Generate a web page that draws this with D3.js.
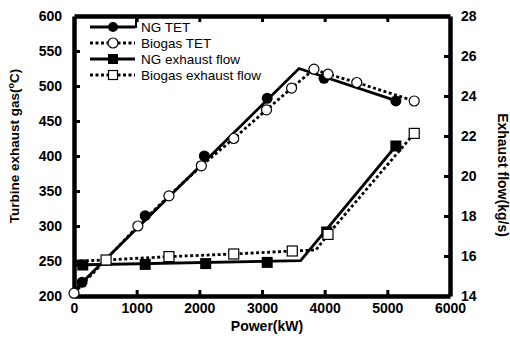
<!DOCTYPE html>
<html>
<head>
<meta charset="utf-8">
<script src="https://cdn.jsdelivr.net/npm/d3@7"></script>
<style>
  body { margin: 0; background: #fff; }
  svg { display: block; font-family: Arial, "Liberation Sans", sans-serif; }
</style>
</head>
<body>
<svg id="chart" width="510" height="338"></svg>
<script>
// markers
const powerNgTet = [128, 1136, 2080, 3083, 3990, 5136];
const ngTet = [219.6, 314.7, 400, 482.4, 511, 478.6];
const powerBioTet = [0, 1019, 1515, 2032, 2549, 3072, 3472, 3829, 4053, 4512, 5429];
const bioTet = [204, 300, 343, 386, 425, 466, 497, 524, 517, 505, 478.6];
const powerNgFlow = [140, 1136, 2101, 3083, 4032, 5136];
const ngFlow = [15.55, 15.58, 15.62, 15.68, 17.2, 21.5];
const powerBioFlow = [512, 1515, 2549, 3483, 4053, 5429];
const bioFlow = [15.8, 15.97, 16.1, 16.25, 17.08, 22.13];

// the drawn lines (fits, not always through the markers)
const ngTetLineP = [0, 3590, 5136];
const ngTetLine = [208, 525, 479];
const ngFlowLineP = [0, 3616, 5136];
const ngFlowLine = [15.55, 15.77, 21.5];
const bioFlowLineP = [100, 512, 1515, 2549, 3483, 3860, 4053, 5429];
const bioFlowLine = [15.75, 15.8, 15.97, 16.1, 16.25, 16.3, 17.08, 22.13];

const xTicks = [0, 1000, 2000, 3000, 4000, 5000, 6000];
const yLeftTicks = [200, 250, 300, 350, 400, 450, 500, 550, 600];
const yRightTicks = [14, 16, 18, 20, 22, 24, 26, 28];
const legendNames = ["NG TET", "Biogas TET", "NG exhaust flow", "Biogas exhaust flow"];

const svg = d3.select("#chart");
const x = d3.scaleLinear().domain([0, 6000]).range([74, 450]);
const yL = d3.scaleLinear().domain([200, 600]).range([296, 16]);
const yR = d3.scaleLinear().domain([14, 28]).range([296, 16]);

const zip = (a, b) => a.map((v, i) => [v, b[i]]);
const fmt = d3.format("d");

// axes
function styleAxis(g) {
  g.select(".domain").attr("stroke", "#000").attr("stroke-width", 4.5);
  g.selectAll(".tick line").attr("stroke", "#000").attr("stroke-width", 3);
  g.selectAll("text").attr("font-size", 14).attr("font-weight", "bold").attr("fill", "#000")
    .attr("font-family", "Arial, 'Liberation Sans', sans-serif");
}

svg.append("g").attr("transform", "translate(0,296)")
  .call(d3.axisBottom(x).tickValues(xTicks).tickFormat(fmt).tickSize(-6).tickSizeOuter(0).tickPadding(7))
  .call(styleAxis)
  .call(g => g.selectAll(".tick").filter(d => d == 0 || d == 6000).select("line").remove());

svg.append("g").attr("transform", "translate(0,16)")
  .call(d3.axisTop(x).tickValues(xTicks).tickSize(-6).tickSizeOuter(0).tickFormat(""))
  .call(styleAxis)
  .call(g => g.selectAll(".tick").filter(d => d == 0 || d == 6000).select("line").remove());

svg.append("g").attr("transform", "translate(74,0)")
  .call(d3.axisLeft(yL).tickValues(yLeftTicks).tickFormat(fmt).tickSize(-6).tickSizeOuter(0).tickPadding(12))
  .call(styleAxis)
  .call(g => g.selectAll(".tick").filter(d => d == 200 || d == 600).select("line").remove());

svg.append("g").attr("transform", "translate(450,0)")
  .call(d3.axisRight(yR).tickValues(yRightTicks).tickFormat(fmt).tickSize(-6).tickSizeOuter(0).tickPadding(11))
  .call(styleAxis)
  .call(g => g.selectAll(".tick").filter(d => d == 14 || d == 28).select("line").remove());

// axis titles
svg.append("text")
  .attr("x", 267).attr("y", 331)
  .attr("text-anchor", "middle")
  .attr("font-size", 14).attr("font-weight", "bold")
  .text("Power(kW)");

const lt = svg.append("text")
  .attr("transform", "translate(19,146) rotate(-90)")
  .attr("text-anchor", "middle")
  .attr("font-size", 13.5).attr("font-weight", "bold");
lt.append("tspan").text("Turbine exhaust gas(");
lt.append("tspan").attr("font-size", 9).attr("dy", -5).text("o");
lt.append("tspan").attr("dy", 5).text("C)");

svg.append("text")
  .attr("transform", "translate(498,175) rotate(90)")
  .attr("text-anchor", "middle")
  .attr("font-size", 14).attr("font-weight", "bold")
  .text("Exhaust flow(kg/s)");

// lines
const lineL = d3.line().x(d => x(d[0])).y(d => yL(d[1]));
const lineR = d3.line().x(d => x(d[0])).y(d => yR(d[1]));
const dash = "3,2.5";

svg.append("path").datum(zip(ngTetLineP, ngTetLine))
  .attr("d", lineL).attr("fill", "none").attr("stroke", "#000").attr("stroke-width", 2.8);
svg.append("path").datum(zip(ngFlowLineP, ngFlowLine))
  .attr("d", lineR).attr("fill", "none").attr("stroke", "#000").attr("stroke-width", 2.8);
svg.append("path").datum(zip(powerBioTet, bioTet))
  .attr("d", lineL).attr("fill", "none").attr("stroke", "#000").attr("stroke-width", 2.8)
  .attr("stroke-dasharray", dash);
svg.append("path").datum(zip(bioFlowLineP, bioFlowLine))
  .attr("d", lineR).attr("fill", "none").attr("stroke", "#000").attr("stroke-width", 2.8)
  .attr("stroke-dasharray", dash);

// markers
const ms = 11;
svg.append("g").selectAll("circle").data(zip(powerNgTet, ngTet)).join("circle")
  .attr("cx", d => x(d[0])).attr("cy", d => yL(d[1])).attr("r", ms / 2).attr("fill", "#000");
svg.append("g").selectAll("rect").data(zip(powerNgFlow, ngFlow)).join("rect")
  .attr("x", d => x(d[0]) - ms / 2).attr("y", d => yR(d[1]) - ms / 2)
  .attr("width", ms).attr("height", ms).attr("fill", "#000");
svg.append("g").selectAll("circle").data(zip(powerBioTet, bioTet)).join("circle")
  .attr("cx", d => x(d[0])).attr("cy", d => yL(d[1])).attr("r", ms / 2 - 0.5)
  .attr("fill", "#fff").attr("stroke", "#000").attr("stroke-width", 1.2);
svg.append("g").selectAll("rect").data(zip(powerBioFlow, bioFlow)).join("rect")
  .attr("x", d => x(d[0]) - ms / 2 + 0.5).attr("y", d => yR(d[1]) - ms / 2 + 0.5)
  .attr("width", ms - 1).attr("height", ms - 1)
  .attr("fill", "#fff").attr("stroke", "#000").attr("stroke-width", 1.2);

// legend
const legY = [27, 43, 59, 75];
const leg = svg.append("g");
legendNames.forEach((name, i) => {
  const g = leg.append("g").attr("transform", `translate(0,${legY[i]})`);
  g.append("line").attr("x1", 90).attr("x2", 135).attr("y1", 0).attr("y2", 0)
    .attr("stroke", "#000").attr("stroke-width", 2.8)
    .attr("stroke-dasharray", i % 2 ? dash : null);
  if (i == 0) g.append("circle").attr("cx", 113).attr("r", 5).attr("fill", "#000");
  if (i == 1) g.append("circle").attr("cx", 113).attr("r", 5).attr("fill", "#fff").attr("stroke", "#000").attr("stroke-width", 1.2);
  if (i == 2) g.append("rect").attr("x", 108).attr("y", -5).attr("width", 10).attr("height", 10).attr("fill", "#000");
  if (i == 3) g.append("rect").attr("x", 108.5).attr("y", -4.5).attr("width", 9).attr("height", 9).attr("fill", "#fff").attr("stroke", "#000").attr("stroke-width", 1.2);
  g.append("text").attr("x", 141).attr("y", 5).attr("font-size", 13.5).text(name);
});
// little box corner next to the first legend entry
leg.append("line").attr("x1", 136).attr("x2", 136).attr("y1", 17).attr("y2", 28)
  .attr("stroke", "#000").attr("stroke-width", 2);
</script>
</body>
</html>
